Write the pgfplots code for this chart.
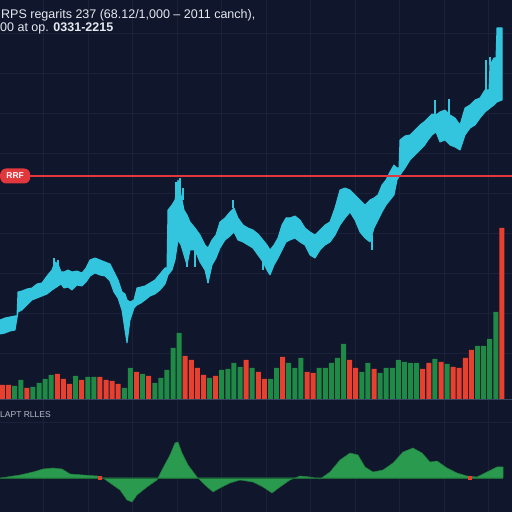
\documentclass[border=0pt]{standalone}
\usepackage{pgfplots}
\pgfplotsset{compat=1.18}
\usepackage{fontspec}
\setmainfont{Liberation Sans}
\definecolor{bgc}{HTML}{10162B}
\definecolor{gridc}{HTML}{1A2139}
\definecolor{pricec}{HTML}{33C5DE}
\definecolor{upc}{HTML}{1E8A45}
\definecolor{downc}{HTML}{E8402F}
\definecolor{oscc}{HTML}{2A9A4E}
\definecolor{refc}{HTML}{E0383C}
\definecolor{sepc}{HTML}{3A4562}
\definecolor{txtc}{HTML}{E6E9F0}
\definecolor{lblc}{HTML}{B8BECC}

% price band: upper edge left to right, then lower edge right to left
\pgfplotstableread{
x y
0 80
5 82
10 83
15 84
17 84
18 108
22 109
27 111
32 112
37 116
42 117
47 124
52 130
55 138
58 136
61 128
64 128
68 130
72 128
77 129
82 127
86 132
90 140
95 142
100 140
105 138
110 136
114 128
118 120
122 108
125 106
127 100
130 98
134 100
137 112
141 113
145 114
150 117
155 120
160 126
165 132
167 132
168 190
172 195
175 200
178 220
181 205
184 190
187 185
190 178
195 172
200 165
205 155
208 152
212 160
216 165
220 178
225 182
230 188
234 192
238 182
243 175
248 172
253 170
258 166
263 160
267 155
270 150
274 155
278 162
282 175
286 182
290 182
295 184
300 180
305 172
310 168
315 165
320 170
325 175
330 178
335 192
340 210
345 212
350 210
355 205
360 200
365 195
370 200
374 202
378 205
382 215
386 220
390 228
394 235
397 232
399 232
400 260
405 264
410 265
415 270
420 275
424 278
428 282
432 286
436 285
440 288
445 290
450 285
455 282
460 275
465 292
470 295
475 300
480 302
485 310
489 310
490 335
494 342
496 342
497 372
502 372
502 300
497 298
494 295
490 292
485 288
480 282
475 275
470 272
465 265
460 250
455 253
450 255
445 260
440 258
436 268
432 265
428 260
424 254
420 250
415 245
410 240
405 232
400 225
397 220
394 205
390 200
386 195
382 188
378 180
374 172
370 158
365 162
360 168
355 180
350 188
345 182
340 175
335 165
330 158
325 155
320 150
315 142
310 145
305 155
300 158
295 162
290 160
286 158
282 150
278 142
274 135
270 125
267 130
263 138
258 145
253 152
248 155
243 158
238 160
234 168
230 164
225 160
220 152
216 142
212 135
208 117
205 130
200 138
195 150
190 150
187 135
184 145
181 155
178 160
175 140
172 130
168 125
165 116
160 110
155 106
150 104
145 100
141 97
137 95
134 92
130 80
127 57
125 70
122 90
118 102
114 108
110 119
105 124
100 125
95 127
90 124
86 118
82 114
77 115
72 110
68 113
64 112
61 116
58 114
55 112
52 110
47 106
42 104
37 102
32 100
27 95
22 90
18 88
15 70
10 69
5 67
0 66
}\bandtable

\pgfplotstableread{
x v
2.5 15
8.6 15
26.9 12
57.3 26
63.4 21
69.5 16
81.7 20
99.9 23
106.0 20
112.1 19
118.2 16
136.5 28
148.7 24
185.2 44
191.3 40
197.4 32
203.5 25
215.7 24
246.1 40
258.3 28
264.4 21
282.6 43
307.0 28
313.1 27
349.6 40
355.7 32
374.0 31
422.7 31
428.8 37
441.0 38
453.2 33
459.2 32
465.3 42
471.4 50
501.9 172
}\downtable

\pgfplotstableread{
x v
14.7 14
20.8 20
32.95 13
39.0 17
45.1 21
51.2 25
75.6 24
87.8 23
93.9 23
124.3 12
130.4 32
142.6 26
154.8 17
160.8 22
166.9 30
173.0 52
179.1 67
209.6 22
221.7 30
227.8 31
233.9 37
240.0 33
252.2 32
270.5 21
276.5 32
288.7 37
294.8 32
300.9 42
319.2 32
325.3 32
331.4 37
337.4 42
343.5 56
361.8 28
367.9 37
380.1 27
386.2 32
392.3 32
398.3 40
404.4 38
410.5 37
416.6 37
434.9 41
447.1 36
477.5 54
483.6 54
489.7 61
495.8 88
}\uptable

\pgfplotstableread{
x v
0 0
20 3
33 6
43 9
53 10
62 9
70 4
83 3
97 2
103 0
110 -5
120 -12
127 -22
132 -24
137 -17
147 -9
157 -2
163 10
170 23
175 35
178 36
182 25
188 13
197 1
205 -7
213 -14
220 -10
230 -5
240 -2
253 -4
263 -9
272 -15
280 -9
290 -2
300 2
310 1
320 -1
330 6
340 18
350 25
358 23
365 11
373 6
383 8
393 15
403 26
413 30
422 25
430 16
437 17
447 10
457 5
467 2
477 1
487 6
497 11
503 11
503 0
}\osctable

\begin{document}
\begin{tikzpicture}[x=1pt,y=1pt]
\fill[bgc] (0,0) rectangle (512,512);

% ---------- top panel: price + volume ----------
\begin{axis}[
  at={(0pt,112pt)}, anchor=south west,
  width=512pt, height=400pt, scale only axis,
  xmin=0, xmax=512, ymin=0, ymax=400,
  axis line style={draw=none},
  major tick length=0pt,
  xticklabels={}, yticklabels={},
  xtick={43.5,88,132.5,177,221.5,266,310.5,355,399.5,444,488.5},
  ytick={47,87,127,167,207,247,287,327,367},
  grid=major, grid style={gridc, line width=0.8pt},
  unbounded coords=jump,
]
\addplot[ybar, bar width=5pt, bar shift=0pt, fill=upc, draw=none] table[x=x,y=v]{\uptable};
\addplot[ybar, bar width=5pt, bar shift=0pt, fill=downc, draw=none] table[x=x,y=v]{\downtable};

\addplot[fill=pricec, draw=pricec, line width=1pt, line join=bevel] table[x=x,y=y]{\bandtable} -- cycle;

\addplot[pricec, line width=1.2pt] coordinates {
 (54,130) (54,142) (55,nan)
 (58,130) (58,140) (59,nan)
 (176,200) (176,218) (177,nan)
 (180,205) (180,222) (181,nan)
 (183,200) (183,212) (184,nan)
 (187,140) (187,133) (188,nan)
 (195,150) (195,133) (196,nan)
 (208,130) (208,117) (209,nan)
 (233,192) (233,200) (234,nan)
 (263,140) (263,130) (264,nan)
 (372,165) (372,150) (373,nan)
 (435,285) (435,300) (436,nan)
 (449,285) (449,301) (450,nan)
 (486,305) (486,340) (487,nan)
 (490,335) (490,343) (491,nan)
};

\addplot[refc, line width=1.3pt] coordinates {(0,224) (512,224)};
\node[fill=refc, rounded corners=6pt, minimum width=30pt, minimum height=15pt, inner sep=0pt,
      anchor=west, text=white, font=\bfseries\fontsize{8.5}{9}\selectfont]
      at (axis cs:0,224) {RRF};
\end{axis}

% ---------- bottom panel: oscillator ----------
\begin{axis}[
  at={(0pt,0pt)}, anchor=south west,
  width=512pt, height=112pt, scale only axis,
  xmin=0, xmax=512, ymin=-34, ymax=78,
  axis line style={draw=none},
  major tick length=0pt,
  xticklabels={}, yticklabels={},
  xtick={43.5,88,132.5,177,221.5,266,310.5,355,399.5,444,488.5},
  ytick={0},
  xmajorgrids, grid style={gridc, line width=0.8pt},
]
\addplot[fill=oscc, draw=oscc!80!black, line width=0.5pt] table[x=x,y=v]{\osctable} \closedcycle;
\addplot[oscc!70!black, line width=0.5pt] coordinates {(0,0) (503,0)};
\addplot[only marks, mark=square*, mark size=1.6pt, color=downc] coordinates {(100,0) (470,0)};
\end{axis}

% separators and texts
\draw[sepc, line width=1pt] (0,112) -- (512,112);
\draw[gridc, line width=0.8pt] (0,90) -- (512,90);
\node[anchor=base west, inner sep=0pt, text=lblc, font=\fontsize{8.5}{9}\selectfont] at (0,94) {LAPT RLLES};
\node[anchor=base west, inner sep=0pt, text=txtc, font=\fontsize{12.5}{14}\selectfont] at (1,493) {RPS regarits 237 (68.12/1,000 -- 2011 canch),};
\node[anchor=base west, inner sep=0pt, text=txtc, font=\fontsize{12.5}{14}\selectfont] at (0,480) {00 at op. \textbf{0331-2215}};
\pgfresetboundingbox
\path[use as bounding box] (0,0) rectangle (512,512);
\end{tikzpicture}
\end{document}
